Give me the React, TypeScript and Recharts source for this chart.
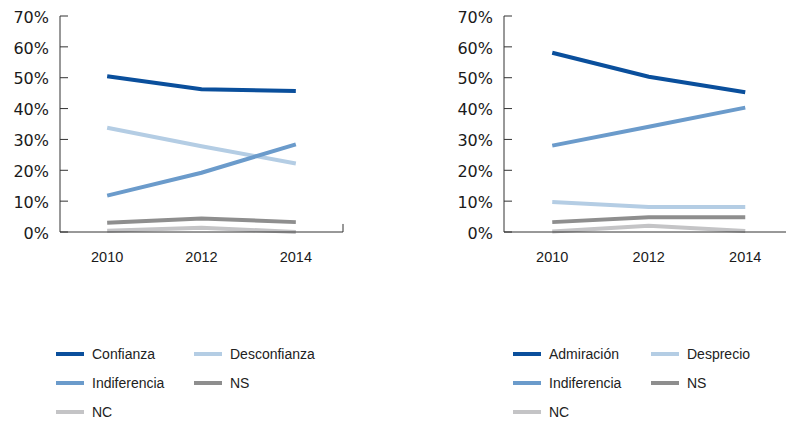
import React from 'react';
import { LineChart, Line, XAxis, YAxis, ReferenceLine } from 'recharts';

const years = [2010, 2012, 2014];
const yTicks = [0, 10, 20, 30, 40, 50, 60, 70];

// Left chart
const confianza = [50.5, 46.3, 45.7];
const desconfianza = [33.8, 27.8, 22.2];
const indiferenciaA = [11.8, 19.2, 28.4];
const nsA = [3.0, 4.4, 3.2];
const ncA = [0.4, 1.4, 0];

// Right chart
const admiracion = [58.1, 50.3, 45.3];
const desprecio = [9.7, 8.1, 8.1];
const indiferenciaB = [28.0, 34.1, 40.3];
const nsB = [3.2, 4.8, 4.8];
const ncB = [0.2, 2.0, 0.3];

const C_DARK = '#0a4f9c';
const C_MID = '#6b9bcb';
const C_LIGHT = '#b4cde4';
const C_NS = '#8e8e8e';
const C_NC = '#c4c4c6';

type Series = { key: string; name: string; color: string; values: number[] };

const leftSeries: Series[] = [
  { key: 'nc', name: 'NC', color: C_NC, values: ncA },
  { key: 'ns', name: 'NS', color: C_NS, values: nsA },
  { key: 'desc', name: 'Desconfianza', color: C_LIGHT, values: desconfianza },
  { key: 'ind', name: 'Indiferencia', color: C_MID, values: indiferenciaA },
  { key: 'conf', name: 'Confianza', color: C_DARK, values: confianza },
];
const leftLegendOrder = ['conf', 'desc', 'ind', 'ns', 'nc'];

const rightSeries: Series[] = [
  { key: 'nc', name: 'NC', color: C_NC, values: ncB },
  { key: 'ns', name: 'NS', color: C_NS, values: nsB },
  { key: 'desp', name: 'Desprecio', color: C_LIGHT, values: desprecio },
  { key: 'ind', name: 'Indiferencia', color: C_MID, values: indiferenciaB },
  { key: 'adm', name: 'Admiración', color: C_DARK, values: admiracion },
];
const rightLegendOrder = ['adm', 'desp', 'ind', 'ns', 'nc'];

const buildData = (series: Series[]) =>
  years.map((y, i) => {
    const row: Record<string, number> = { year: y };
    series.forEach((s) => {
      row[s.key] = s.values[i];
    });
    return row;
  });

const AXIS_COLOR = '#333333';
const XTICK_FONT = { fontFamily: 'Liberation Sans', fontSize: 14.5, fill: '#1a1a1a' };
const Y_TICK_MARGIN = 11;

function YTick(props: any) {
  const { x, y, payload } = props;
  const axisX = x + Y_TICK_MARGIN;
  return (
    <g>
      <line x1={axisX} x2={axisX + 8} y1={y} y2={y} stroke={AXIS_COLOR} strokeWidth={1} />
      <text
        x={x}
        y={y + 1}
        dy="0.355em"
        textAnchor="end"
        fontFamily="DejaVu Sans"
        fontSize={16}
        fill="#1a1a1a"
      >
        {`${payload.value}%`}
      </text>
    </g>
  );
}

function Chart({ series, left, width, marginRight }: { series: Series[]; left: number; width: number; marginRight: number }) {
  const data = buildData(series);
  return (
    <div style={{ position: 'absolute', left, top: 0 }}>
      <LineChart width={width} height={270} data={data} margin={{ top: 16, right: marginRight, left: 0, bottom: 8 }}>
        <XAxis
          dataKey="year"
          type="number"
          domain={[2009, 2015]}
          ticks={years}
          tickLine={false}
          tickSize={0}
          tickMargin={20}
          axisLine={{ stroke: AXIS_COLOR, strokeWidth: 1 }}
          tick={XTICK_FONT}
          height={30}
        />
        <YAxis
          type="number"
          domain={[0, 70]}
          ticks={yTicks}
          width={60}
          tickSize={0}
          tickMargin={Y_TICK_MARGIN}
          tickLine={false}
          axisLine={{ stroke: AXIS_COLOR, strokeWidth: 1 }}
          tick={<YTick />}
          interval={0}
        />
        <ReferenceLine
          segment={[{ x: 2015, y: 0 }, { x: 2015, y: 2.6 }]}
          stroke={AXIS_COLOR}
          strokeWidth={1}
          ifOverflow="visible"
        />
        {series.map((s) => (
          <Line
            key={s.key}
            dataKey={s.key}
            name={s.name}
            stroke={s.color}
            strokeWidth={4}
            dot={false}
            activeDot={false}
            type="linear"
            isAnimationActive={false}
          />
        ))}
      </LineChart>
    </div>
  );
}

function LegendBlock({ series, order, x1, x2, top }: { series: Series[]; order: string[]; x1: number; x2: number; top: number }) {
  const items = order.map((k) => series.find((s) => s.key === k)!);
  return (
    <>
      {items.map((s, i) => {
        const col = i % 2;
        const row = Math.floor(i / 2);
        return (
          <div
            key={s.key}
            style={{
              position: 'absolute',
              left: col === 0 ? x1 : x2,
              top: top + row * 29 - 8,
              height: 16,
              lineHeight: '16px',
              display: 'flex',
              alignItems: 'center',
              fontFamily: 'Liberation Sans',
              fontSize: 14,
              color: '#222',
              whiteSpace: 'nowrap',
            }}
          >
            <span style={{ display: 'inline-block', width: 28, height: 3.5, background: s.color, marginRight: 8 }} />
            <span>{s.name}</span>
          </div>
        );
      })}
    </>
  );
}

export default function App() {
  return (
    <div style={{ position: 'fixed', left: 0, top: 0, width: 786, height: 422, overflow: 'hidden', background: '#fff' }}>
      <style>{'html,body{margin:0;padding:0;overflow:hidden;}'}</style>
      <Chart series={leftSeries} left={0} width={353} marginRight={10} />
      <Chart series={rightSeries} left={444} width={360} marginRight={10.5} />
      <LegendBlock series={leftSeries} order={leftLegendOrder} x1={56} x2={194} top={354} />
      <LegendBlock series={rightSeries} order={rightLegendOrder} x1={513} x2={651} top={354} />
    </div>
  );
}
